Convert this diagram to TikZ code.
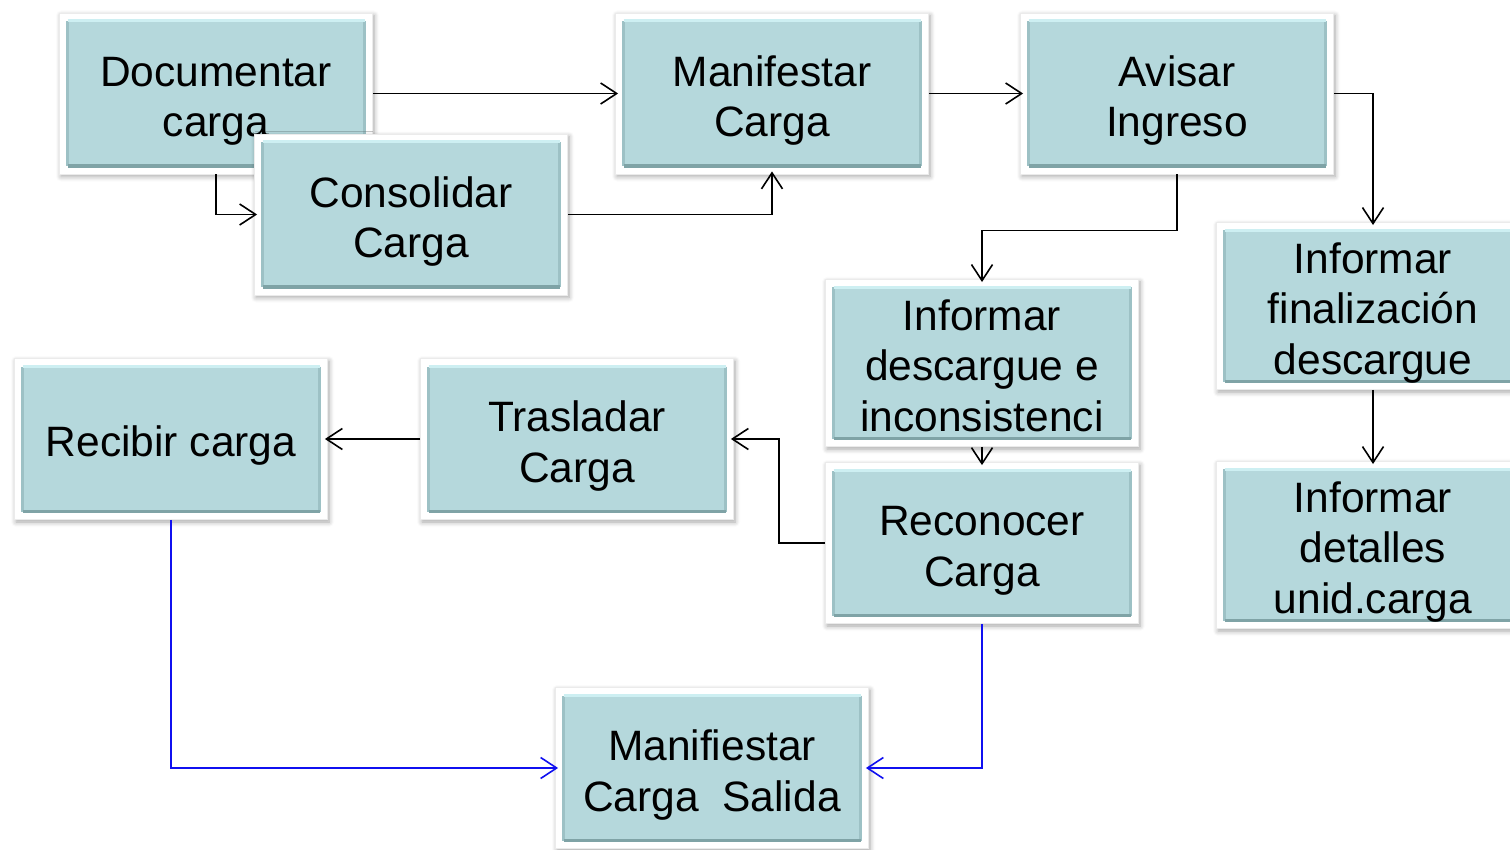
\documentclass[tikz,border=0pt]{standalone}
\usepackage{fontspec}
\setmainfont{Liberation Sans}
\usetikzlibrary{arrows.meta,shadows.blur}
\definecolor{boxfill}{HTML}{B5D8DC}
\definecolor{boxtop}{HTML}{CDEFF2}
\definecolor{boxbot}{HTML}{7FA3A6}
\definecolor{boxside}{HTML}{9DC1C5}
\definecolor{linkblue}{HTML}{1010F0}
\newcommand{\bt}[1]{\begin{tabular}[t]{@{}c@{}}#1\end{tabular}}
\tikzset{
  box/.style={rectangle, minimum width=313pt, minimum height=161pt, inner sep=0pt,
    fill=white, draw=black!8, line width=0.8pt,
    blur shadow={shadow xshift=1.5pt, shadow yshift=-2.5pt, shadow blur steps=6,
      shadow blur radius=5pt, shadow opacity=35},
    text height=51pt,
    font=\fontsize{42.5}{50.5}\selectfont,
    path picture={
      \coordinate (ppsw) at ([shift={(8pt,8pt)}]path picture bounding box.south west);
      \coordinate (ppne) at ([shift={(-8pt,-8pt)}]path picture bounding box.north east);
      \fill[boxfill] (ppsw) rectangle (ppne);
      \draw[boxside, line width=3pt] (ppsw) -- (ppsw |- ppne) (ppne) -- (ppne |- ppsw);
      \draw[boxtop, line width=3pt] (ppsw |- ppne) -- (ppne);
      \draw[boxbot, line width=3.5pt] (ppsw) -- (ppne |- ppsw);
    }},
  conn/.style={line width=1.5pt, shorten >=-3pt,
    -{Straight Barb[length=16pt,width=21pt,line width=1.6pt]}},
  bconn/.style={conn, draw=linkblue}
}
\begin{document}
\begin{tikzpicture}[x=1pt,y=-1pt]
\useasboundingbox (0,0) rectangle (1510,850);
\node[box] (doc) at (216,93.5) {\bt{Documentar\\carga}};
\node[box] (con) at (411,214.5) {\bt{Consolidar\\Carga}};
\node[box] (man) at (772,93.5) {\bt{Manifestar\\Carga}};
\node[box] (avi) at (1177,93.5) {\bt{Avisar\\Ingreso}};
\node[box] (fin) at (1373,306) {\bt{Informar\\finalización\\descargue}};
\node[box] (det) at (1373,545) {\bt{Informar\\detalles\\unid.carga}};
\node[box] (des) at (982,363) {\bt{Informar\\descargue e\\inconsistenci}};
\node[box] (rec) at (982,543) {\bt{Reconocer\\Carga}};
\node[box] (tra) at (577,439) {\bt{Trasladar\\Carga}};
\node[box] (rcb) at (171,439) {\bt{Recibir carga}};
\node[box] (sal) at (712,768) {\bt{Manifiestar\\Carga\ \ Salida}};

\draw[conn] (doc.east) -- (man.west);
\draw[conn] (doc.south) |- (con.west);
\draw[conn] (con.east) -| (man.south);
\draw[conn] (man.east) -- (avi.west);
\draw[conn] (avi.east) -| (fin.north);
\draw[conn] (avi.south) -- ++(0,56) -| (des.north);
\draw[conn] (fin.south) -- (det.north);
\draw[conn] (des.south) -- (rec.north);
\draw[conn] (rec.west) -- ++(-46,0) |- (tra.east);
\draw[conn] (tra.west) -- (rcb.east);
\draw[bconn] (rcb.south) |- (sal.west);
\draw[bconn] (rec.south) |- (sal.east);
\end{tikzpicture}
\end{document}
